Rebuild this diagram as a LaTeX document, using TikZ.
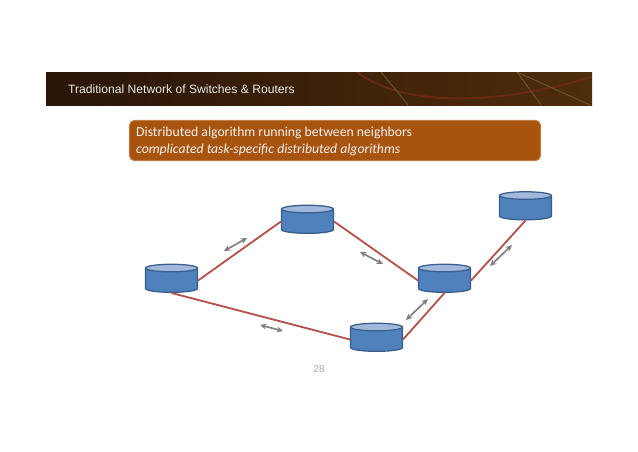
\documentclass[tikz,border=0pt]{standalone}
\usepackage{fontspec}
\setmainfont{Carlito}
\newfontfamily\headfont{Liberation Sans}
\usetikzlibrary{shapes.geometric,arrows.meta}
\definecolor{headleft}{HTML}{2A1508}
\definecolor{headright}{HTML}{4E2D0B}
\definecolor{boxfill}{HTML}{A8530E}
\definecolor{linkred}{HTML}{B5524E}
\definecolor{routerbody}{HTML}{4F81BD}
\definecolor{routertop}{HTML}{A0B8DC}
\definecolor{routeredge}{HTML}{385D8A}
\definecolor{archead}{HTML}{6B2A12}
\definecolor{linehead}{HTML}{6A5A2A}
\tikzset{
	router/.style={cylinder, shape border rotate=90, draw=routeredge, line width=0.7pt, aspect=0.16,
		cylinder uses custom fill, cylinder body fill=routerbody, cylinder end fill=routertop,
		text width=27pt, minimum width=29.5pt, minimum height=16pt, inner sep=0pt},
	link/.style={draw=linkred, line width=1.05pt},
	flow/.style={{Stealth[length=3.6pt,width=3.4pt]}-{Stealth[length=3.6pt,width=3.4pt]}, draw=gray, line width=0.95pt}
}
\begin{document}
\begin{tikzpicture}[x=0.02cm,y=-0.02cm]
	\useasboundingbox (0,0) rectangle (638,451);
	% header band
	\begin{scope}
		\clip (46,72) rectangle (592,105);
		\shade[left color=headleft, right color=headright] (46,72) rectangle (592,105);
		\draw[archead, line width=1pt] (357,72) .. controls (395,102) and (480,110) .. (592,77);
		\draw[linehead, line width=0.5pt] (381,72) -- (408,105);
		\draw[linehead, line width=0.5pt] (517,72) -- (541,105);
		\draw[linehead, line width=0.5pt] (517,72) -- (590,105);
	\end{scope}
	\node[anchor=west, text=white!92!black, font=\headfont\fontsize{6.9}{8}\selectfont] (title) at (62,89) {Traditional Network of Switches \& Routers};
	% message box
	\node[draw=boxfill!75!white, line width=0.6pt, fill=boxfill, rounded corners=3pt, minimum width=234pt, minimum height=23pt] (msg) at (335,140.5) {};
	\node[anchor=west, text=white!95!black, align=left, font=\fontsize{7.8}{9.7}\selectfont] (msgtext) at (130,141.5) {Distributed algorithm running between neighbors\\\textit{complicated task-specific distributed algorithms}};
	% routers
	\node[router] (left) at (171.5,280.5) {};
	\node[router] (upper) at (307.5,221.5) {};
	\node[router] (mid) at (444.5,280.5) {};
	\node[router] (lower) at (376.5,339.5) {};
	\node[router] (far) at (525.5,208) {};
	% links
	\draw[link] (left.east) -- (upper.west);
	\draw[link] (left.south) -- (lower.west);
	\draw[link] (upper.east) -- (mid.west);
	\draw[link] (mid.south) -- (lower.east);
	\draw[link] (mid.east) -- (far.south);
	% message arrows
	\foreach \i/\xa/\ya/\xb/\yb in {1/224/251/247/238, 2/260/325/283/331, 3/360/252/383/264, 4/406/320/428/299, 5/490/266/512/245}
	{
		\coordinate (from\i) at (\xa,\ya);
		\coordinate (to\i) at (\xb,\yb);
		\draw[flow] (from\i) -- (to\i);
	}
	\node[text=gray!70, font=\headfont\fontsize{5.6}{6}\selectfont] (page) at (319,369) {28};
\end{tikzpicture}
\end{document}
